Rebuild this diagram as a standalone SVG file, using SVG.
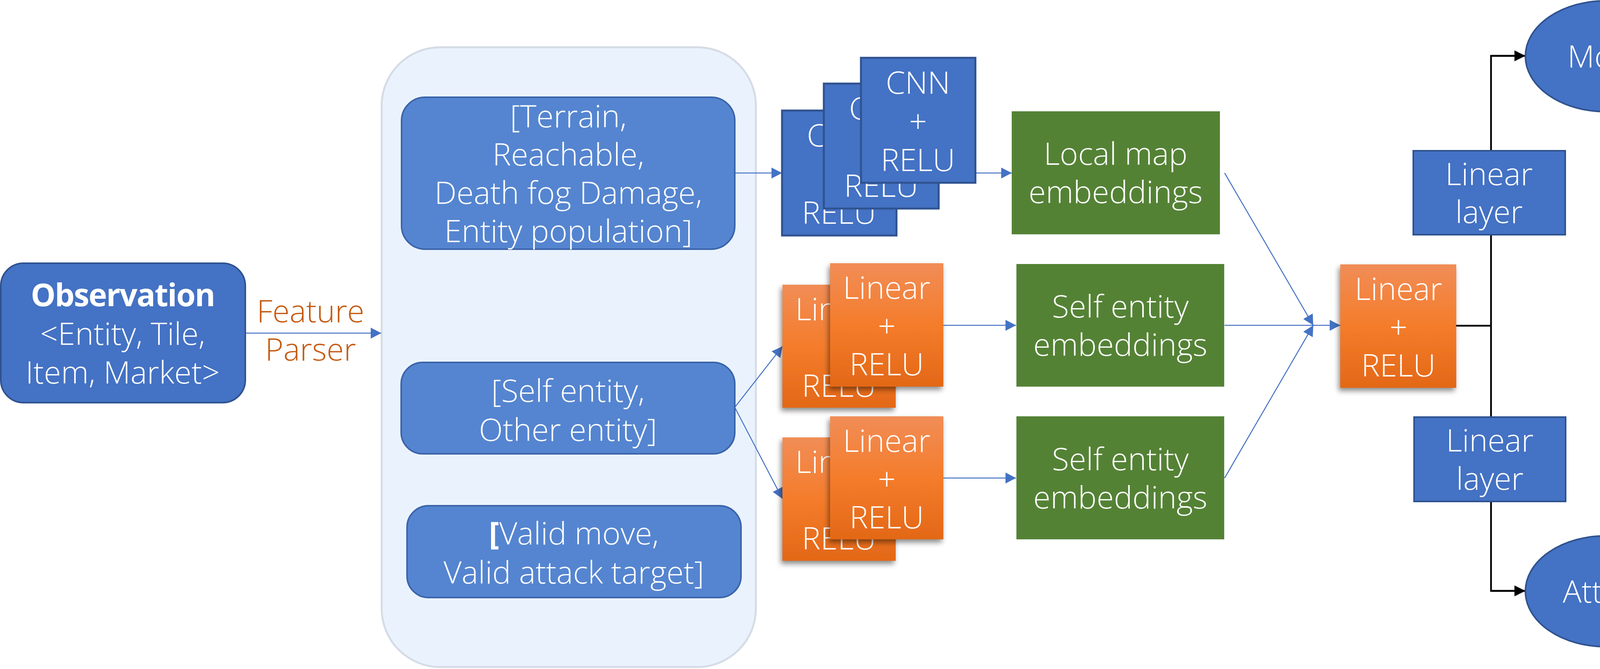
<svg xmlns="http://www.w3.org/2000/svg" width="5002" height="1713" viewBox="0 0 5002 1713">
<style>
text{font-family:"Open Sans","Noto Sans","Liberation Sans",sans-serif;font-weight:300;font-size:80px;fill:#fff;text-anchor:middle}
.b{font-weight:700}
.ob{font-weight:700;letter-spacing:-2px}
.fp{fill:#C55A11}
.panel{fill:#EAF3FD;stroke:#D5DCE6;stroke-width:5}
.feat{fill:#5585D0;stroke:#3B63AA;stroke-width:4}
.cnn{fill:#4472C4;stroke:#2F528F;stroke-width:5}
.blue{fill:#4472C4;stroke:#2F528F;stroke-width:4}
.green{fill:#548235}
.org{fill:url(#og);filter:url(#sh)}
.cb{stroke:#4472C4;stroke-width:2.5;fill:none}
.ck{stroke:#000;stroke-width:4.5;fill:none}
</style>
<defs>
<linearGradient id="og" x1="0" y1="0" x2="0" y2="1">
<stop offset="0" stop-color="#F18D57"/>
<stop offset="0.5" stop-color="#F47C2B"/>
<stop offset="1" stop-color="#E36817"/>
</linearGradient>
<filter id="sh" x="-20%" y="-20%" width="140%" height="140%">
<feDropShadow dx="-4" dy="8" stdDeviation="7" flood-color="#000" flood-opacity="0.45"/>
</filter>
<marker id="ab" markerUnits="userSpaceOnUse" markerWidth="27" markerHeight="28" viewBox="0 0 26 27" refX="26" refY="13.5" orient="auto"><path d="M0,0 L26,13.5 L0,27 z" fill="#4472C4"/></marker>
<marker id="ak" markerUnits="userSpaceOnUse" markerWidth="28" markerHeight="28" viewBox="0 0 27 27" refX="27" refY="13.5" orient="auto"><path d="M0,0 L27,13.5 L0,27 z" fill="#000"/></marker>
</defs>

<g id="panel"><rect class="panel" x="977" y="121" width="958" height="1587" rx="150" ry="150"/></g>

<g id="connectors">
<line class="cb" x1="628" y1="853" x2="976" y2="853" marker-end="url(#ab)"/>
<line class="cb" x1="1882" y1="443" x2="2002" y2="443" marker-end="url(#ab)"/>
<line class="cb" x1="2497" y1="443" x2="2590" y2="443" marker-end="url(#ab)"/>
<line class="cb" x1="1881" y1="1043" x2="2003" y2="887" marker-end="url(#ab)"/>
<line class="cb" x1="1881" y1="1043" x2="2003" y2="1277" marker-end="url(#ab)"/>
<line class="cb" x1="2415" y1="833" x2="2601" y2="833" marker-end="url(#ab)"/>
<line class="cb" x1="2415" y1="1224" x2="2601" y2="1224" marker-end="url(#ab)"/>
<line class="cb" x1="3135" y1="443" x2="3362" y2="833" marker-end="url(#ab)"/>
<line class="cb" x1="3135" y1="1224" x2="3362" y2="833" marker-end="url(#ab)"/>
<line class="cb" x1="3135" y1="833" x2="3431" y2="833" marker-end="url(#ab)"/>
<polyline class="ck" points="3728,834 3817,834"/>
<polyline class="ck" points="3905,143 3817,143 3817,1513 3905,1513"/>
<line class="ck" x1="3817" y1="143" x2="3905" y2="143" marker-end="url(#ak)"/>
<line class="ck" x1="3817" y1="1513" x2="3905" y2="1513" marker-end="url(#ak)"/>
<line class="ck" x1="4111" y1="287" x2="4111" y2="1372"/>
<line class="ck" x1="4111" y1="834" x2="4204" y2="834"/>
<line class="ck" x1="4494" y1="834" x2="4570" y2="834" marker-end="url(#ak)"/>
</g>

<g id="observation">
<rect class="blue" x="2" y="674" width="626" height="357" rx="58" ry="58"/>
<text class="ob" x="314" y="784">Observation</text>
<text x="314" y="883">&lt;Entity, Tile,</text>
<text x="314" y="982">Item, Market&gt;</text>
</g>
<g id="feature-parser-label">
<text class="fp" x="795" y="825">Feature</text>
<text class="fp" x="795" y="923">Parser</text>
</g>

<g id="terrain">
<rect class="feat" x="1028" y="249" width="853" height="389" rx="60" ry="60"/>
<text x="1455" y="326">[Terrain,</text>
<text x="1455" y="424">Reachable,</text>
<text x="1455" y="522">Death fog Damage,</text>
<text x="1455" y="620">Entity population]</text>
</g>
<g id="entities">
<rect class="feat" x="1027" y="928" width="854" height="234" rx="55" ry="55"/>
<text x="1454" y="1029">[Self entity,</text>
<text x="1454" y="1129">Other entity]</text>
</g>
<g id="valid">
<rect class="feat" x="1042" y="1295" width="855" height="235" rx="55" ry="55"/>
<text x="1469" y="1394"><tspan class="b">[</tspan>Valid move,</text>
<text x="1469" y="1494">Valid attack target]</text>
</g>

<g id="cnn-3">
<rect class="cnn" x="2002" y="283" width="293" height="320"/>
<text x="2148" y="375">CNN</text><text x="2148" y="474">+</text><text x="2148" y="573">RELU</text>
</g>
<g id="cnn-2">
<rect class="cnn" x="2109" y="214" width="294" height="320"/>
<text x="2256" y="306">CNN</text><text x="2256" y="405">+</text><text x="2256" y="504">RELU</text>
</g>
<g id="cnn-1">
<rect class="cnn" x="2204" y="148" width="293" height="320"/>
<text x="2350" y="240">CNN</text><text x="2350" y="339">+</text><text x="2350" y="438">RELU</text>
</g>

<g id="lin-a2">
<rect class="org" x="2003" y="729" width="290" height="315"/>
<text x="2148" y="820">Linear</text><text x="2148" y="918">+</text><text x="2148" y="1016">RELU</text>
</g>
<g id="lin-a1">
<rect class="org" x="2125" y="674" width="290" height="316"/>
<text x="2270" y="765">Linear</text><text x="2270" y="863">+</text><text x="2270" y="961">RELU</text>
</g>
<g id="lin-b2">
<rect class="org" x="2003" y="1120" width="290" height="316"/>
<text x="2148" y="1211">Linear</text><text x="2148" y="1309">+</text><text x="2148" y="1407">RELU</text>
</g>
<g id="lin-b1">
<rect class="org" x="2125" y="1066" width="290" height="315"/>
<text x="2270" y="1157">Linear</text><text x="2270" y="1255">+</text><text x="2270" y="1353">RELU</text>
</g>

<g id="local-map-emb">
<rect class="green" x="2590" y="285" width="533" height="315"/>
<text x="2856" y="422">Local map</text><text x="2856" y="520">embeddings</text>
</g>
<g id="self-emb-1">
<rect class="green" x="2602" y="676" width="532" height="314"/>
<text x="2868" y="813">Self entity</text><text x="2868" y="911">embeddings</text>
</g>
<g id="self-emb-2">
<rect class="green" x="2602" y="1066" width="532" height="315"/>
<text x="2868" y="1204">Self entity</text><text x="2868" y="1302">embeddings</text>
</g>

<g id="lin-merge">
<rect class="org" x="3431" y="677" width="297" height="316"/>
<text x="3580" y="768">Linear</text><text x="3580" y="866">+</text><text x="3580" y="964">RELU</text>
</g>

<g id="linear-move">
<rect class="blue" x="3618" y="386" width="389" height="215"/>
<text x="3812" y="474">Linear</text><text x="3812" y="571">layer</text>
</g>
<g id="linear-attack">
<rect class="blue" x="3620" y="1068" width="388" height="216"/>
<text x="3814" y="1156">Linear</text><text x="3814" y="1254">layer</text>
</g>
<g id="linear-value">
<rect class="blue" x="4204" y="726" width="290" height="215"/>
<text x="4349" y="814">Linear</text><text x="4349" y="912">layer</text>
</g>

<g id="move">
<ellipse class="blue" cx="4111" cy="144" rx="206" ry="142"/>
<text x="4111" y="173">Move</text>
</g>
<g id="attack">
<ellipse class="blue" cx="4111" cy="1514" rx="206" ry="142"/>
<text x="4111" y="1543">Attack</text>
</g>
<g id="value">
<ellipse class="blue" cx="4785" cy="833" rx="213" ry="80"/>
<text x="4785" y="862">Value</text>
</g>
</svg>
